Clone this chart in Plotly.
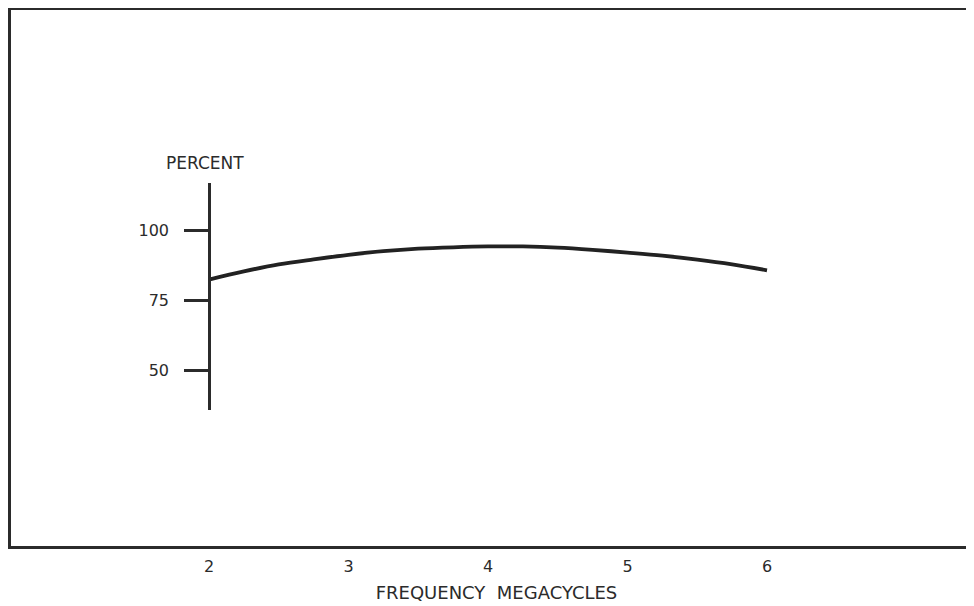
import plotly.graph_objects as go

# Response curve
freq_mc = [2.0, 2.25, 2.5, 2.75, 3.0, 3.25, 3.5, 3.75, 4.0,
           4.25, 4.5, 4.75, 5.0, 5.25, 5.5, 5.75, 6.0]
percent = [82.4, 85.3, 87.8, 89.6, 91.2, 92.5, 93.4, 93.9, 94.2,
           94.2, 93.8, 93.0, 92.0, 90.9, 89.5, 87.8, 85.7]

x_ticks = [2, 3, 4, 5, 6]
y_ticks = [50, 75, 100]
y_ticktext = ["50", "75", "100"]

INK = "#2b2b2b"
FONT = "DejaVu Sans"

# the page body adds an 8px margin; the frame runs off the right edge
W, H = 974, 598
ML, MT, MB = 3, 2, 60
X_RANGE = [0.581, 7.541]
AXIS_POS = (2 - X_RANGE[0]) / (X_RANGE[1] - X_RANGE[0])

fig = go.Figure()

# empty trace so the outer frame subplot (x, y) exists
fig.add_trace(go.Scatter(x=[], y=[], xaxis="x", yaxis="y",
                         showlegend=False, hoverinfo="skip"))

fig.add_trace(go.Scatter(
    x=freq_mc,
    y=percent,
    xaxis="x2",
    yaxis="y2",
    mode="lines",
    line=dict(color="#222222", width=3.8, shape="spline"),
    showlegend=False,
    hoverinfo="x+y",
))

fig.update_layout(
    width=W,
    height=H,
    paper_bgcolor="white",
    plot_bgcolor="white",
    margin=dict(l=ML, r=0, t=MT, b=MB, autoexpand=False),
    font=dict(family=FONT, color=INK, size=16),
    xaxis=dict(
        domain=[0, 1],
        range=X_RANGE,
        showline=True,
        linecolor=INK,
        linewidth=3,
        mirror=True,
        showgrid=False,
        zeroline=False,
        tickvals=x_ticks,
        ticks="",
        ticklabelstandoff=4,
        tickfont=dict(size=16, family=FONT, color=INK),
        title=dict(text="FREQUENCY  MEGACYCLES",
                   font=dict(size=18, family=FONT, color=INK),
                   standoff=12),
        anchor="y",
    ),
    yaxis=dict(
        domain=[0, 1],
        range=[0, 1],
        showline=True,
        linecolor=INK,
        linewidth=3,
        showgrid=False,
        zeroline=False,
        showticklabels=False,
        ticks="",
        anchor="x",
    ),
    xaxis2=dict(
        domain=[0, 1],
        range=X_RANGE,
        anchor="y2",
        visible=False,
    ),
    yaxis2=dict(
        domain=[0.253, 0.677],
        range=[35.7, 116.8],
        anchor="free",
        position=AXIS_POS,
        showline=True,
        linecolor=INK,
        linewidth=2.5,
        showgrid=False,
        zeroline=False,
        ticks="outside",
        ticklen=24,
        tickwidth=2.5,
        tickcolor=INK,
        tickvals=y_ticks,
        ticktext=y_ticktext,
        ticklabelstandoff=12,
        tickfont=dict(size=16, family=FONT, color=INK),
    ),
    annotations=[dict(
        text="PERCENT",
        xref="x2", yref="y2",
        x=2, y=116.8,
        xanchor="center", yanchor="bottom",
        xshift=-4, yshift=8,
        showarrow=False,
        font=dict(size=17, family=FONT, color=INK),
    )],
)

fig.write_html("out.html")
